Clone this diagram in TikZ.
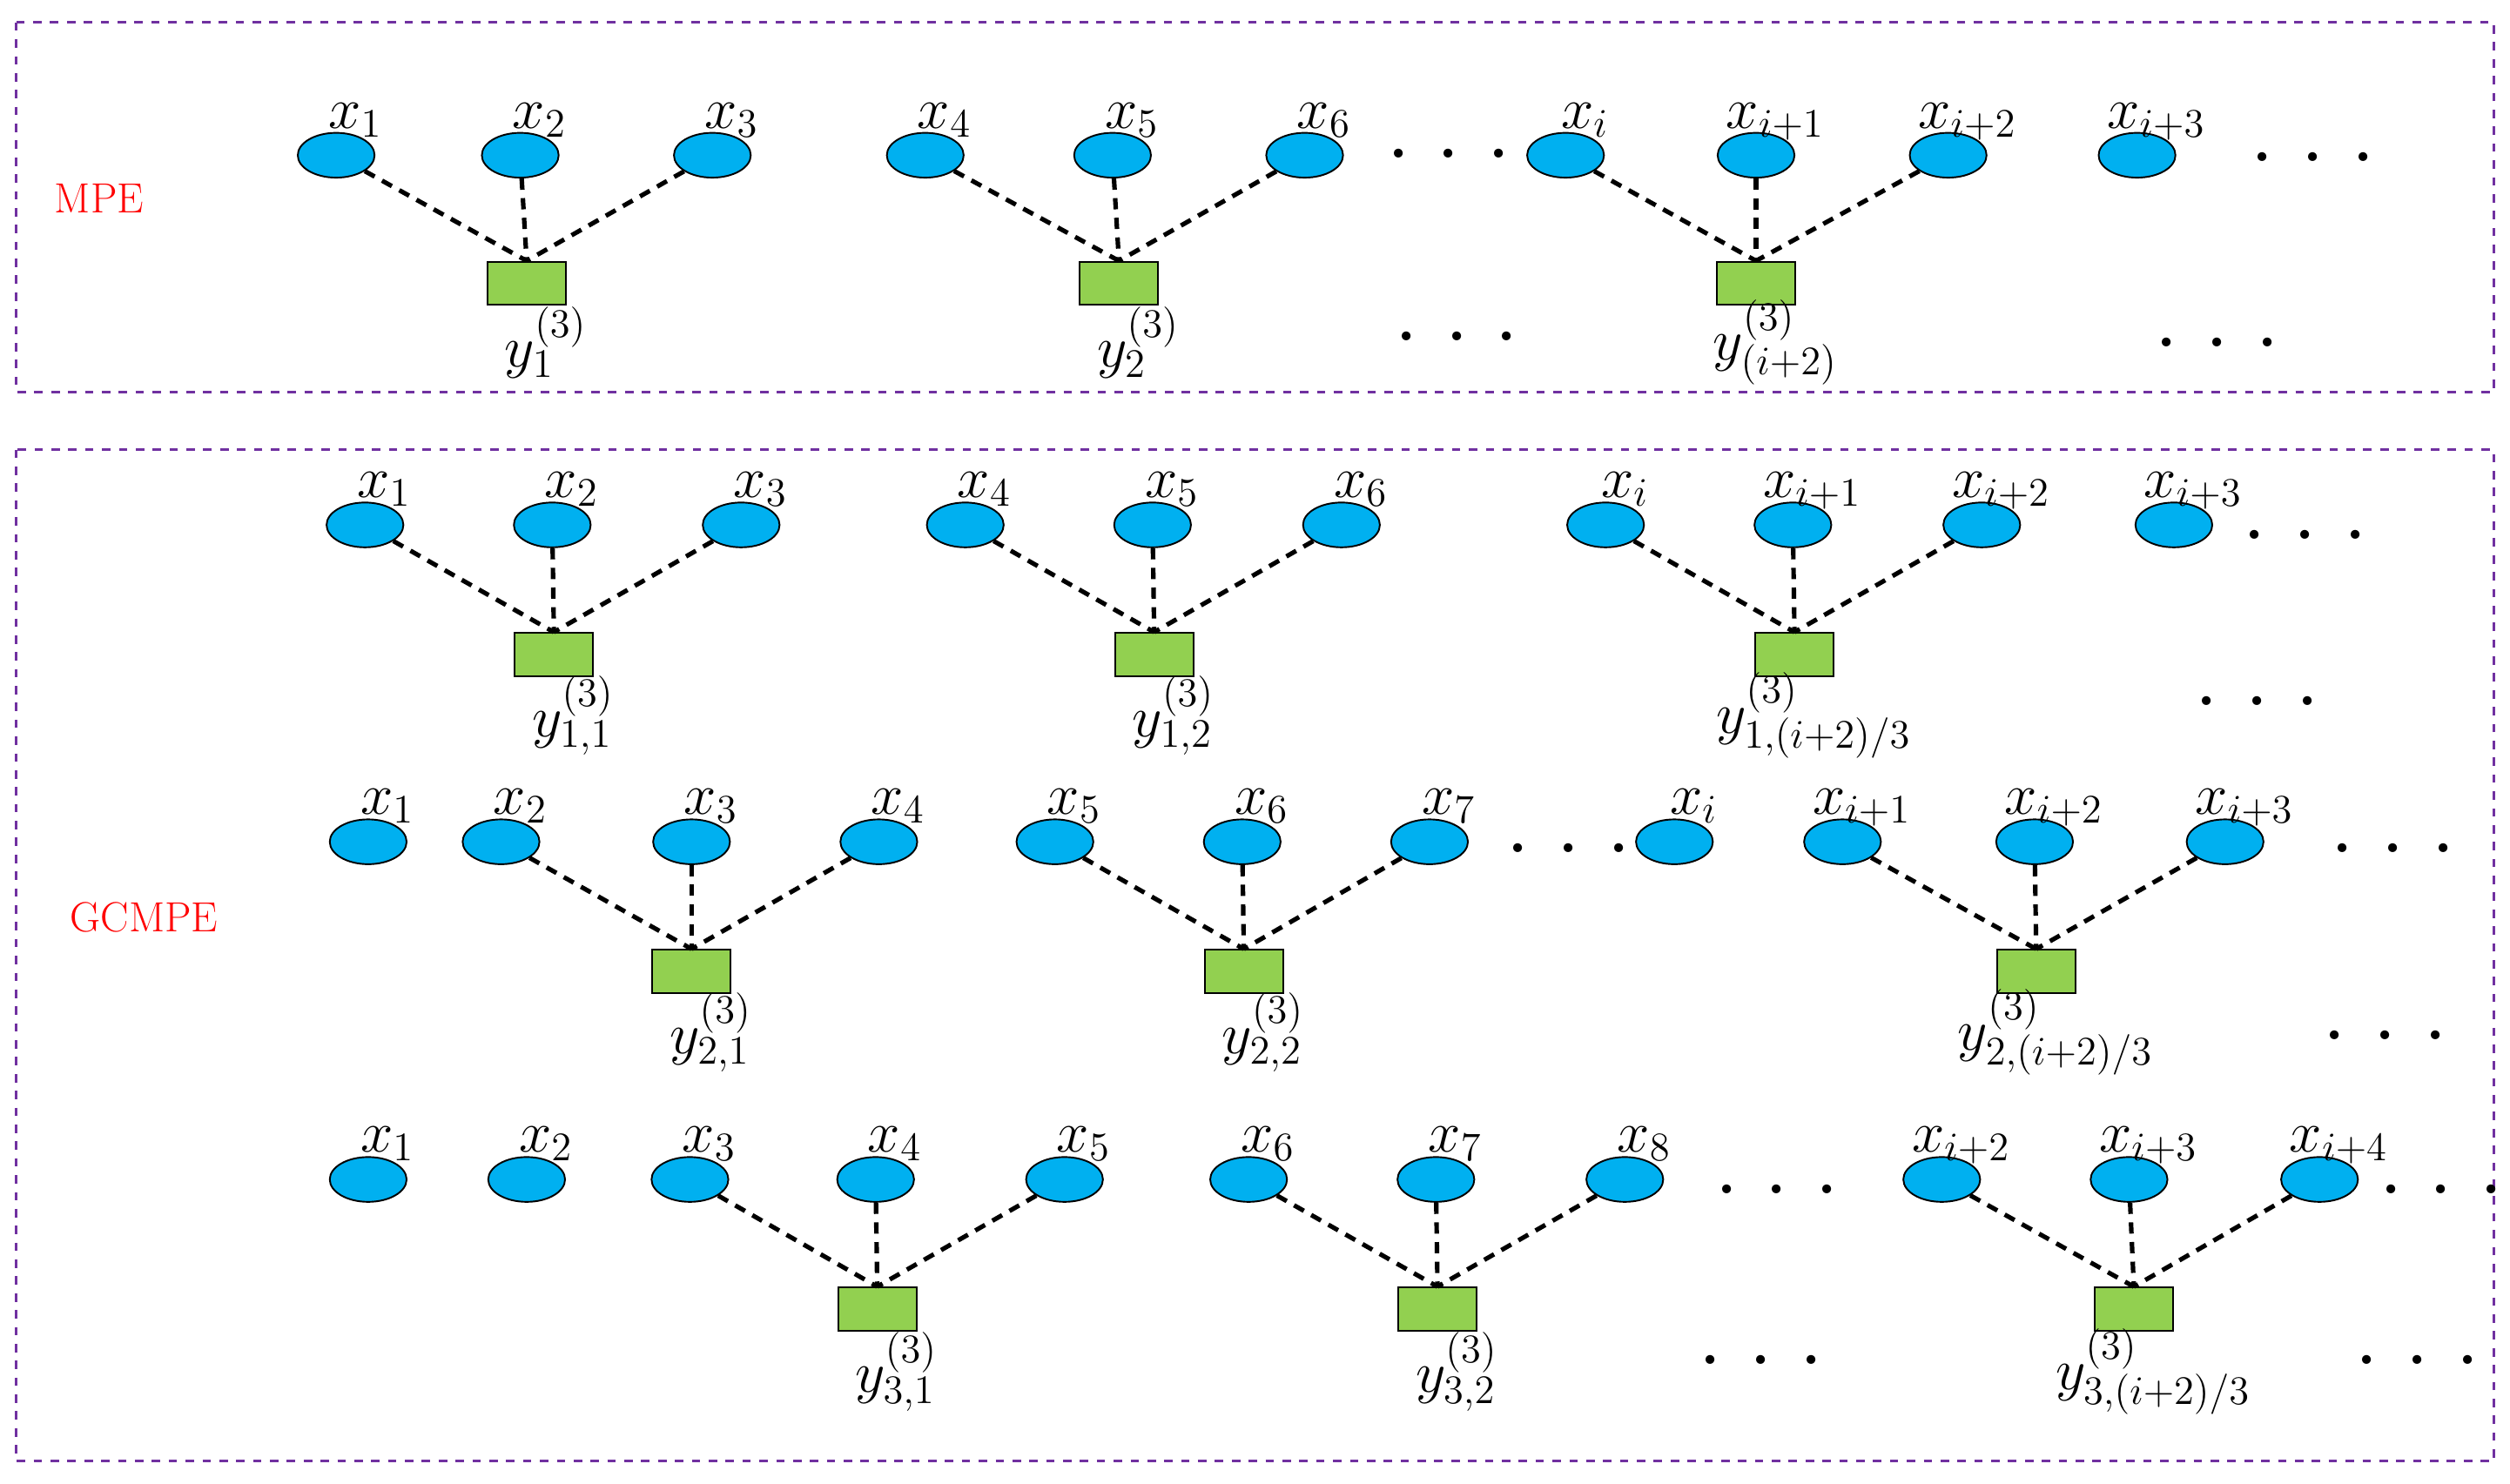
\documentclass[tikz,border=0pt]{standalone}
\usetikzlibrary{shapes.geometric}
\definecolor{ecyan}{RGB}{0,176,240}
\definecolor{rgreen}{RGB}{146,208,80}
\definecolor{bpurple}{RGB}{112,48,160}
\begin{document}
\begin{tikzpicture}[x=0.02cm,y=-0.02cm,
 el/.style={ellipse,draw=black,fill=ecyan,minimum width=0.96cm,minimum height=0.56cm,inner sep=0pt,line width=0.6pt},
 rc/.style={rectangle,draw=black,fill=rgreen,minimum width=0.98cm,minimum height=0.54cm,inner sep=0pt,line width=0.6pt},
 lk/.style={densely dashed,line width=1.6pt,dash pattern=on 4pt off 3pt},
 xl/.style={font=\fontsize{20}{22}\selectfont,anchor=base},
 yl/.style={font=\fontsize{20}{22}\selectfont},
 dt/.style={font=\fontsize{22}{22}\selectfont\bfseries},
 box/.style={draw=bpurple,dashed,line width=0.8pt},
 tl/.style={text=red,font=\fontsize{15}{16}\selectfont}]
\useasboundingbox (0,0) rectangle (1568,927);
\draw[box] (10,14) rectangle (1558,245);
\draw[box] (10,281) rectangle (1558,913);
\node[tl] (mpe) at (62,124) {MPE};
\node[tl] (gc) at (90,573) {GCMPE};
% ---- MPE
\foreach \n/\x/\t in {1/210/1,2/325/2,3/445/3,4/578/4,5/695/5,6/815/6,7/978/i,8/1097/i+1,9/1217/i+2,10/1335/i+3}{
 \node[el] (a\n) at (\x,97) {};
 \node[xl] (la\n) at (\x+12,80) {$x_{\t}$};}
\foreach \n/\x/\t in {1/329/1,2/699/2,3/1097/(i+2)/3}{
 \node[rc] (ra\n) at (\x,177) {};
 \node[yl] (lra\n) at (\x+12,214) {$y^{(3)}_{\t}$};}
\foreach \e/\r in {1/1,2/1,3/1,4/2,5/2,6/2,7/3,8/3,9/3}{\draw[lk] (a\e) -- (ra\r.north);}
\node[dt] (d1) at (905,96) {. . .};
\node[dt] (d2) at (1445,98) {. . .};
\node[dt] (d3) at (910,210) {. . .};
\node[dt] (d4) at (1385,214) {. . .};
% ---- row 1
\foreach \n/\x/\t in {1/228/1,2/345/2,3/463/3,4/603/4,5/720/5,6/838/6,7/1003/i,8/1120/i+1,9/1238/i+2,10/1358/i+3}{
 \node[el] (b\n) at (\x,328) {};
 \node[xl] (lb\n) at (\x+12,311) {$x_{\t}$};}
\foreach \n/\x/\t in {1/346/{1,1},2/721/{1,2},3/1121/{1,(i+2)/3}}{
 \node[rc] (rb\n) at (\x,409) {};
 \node[yl] (lrb\n) at (\x+12,447) {$y^{(3)}_{\t}$};}
\foreach \e/\r in {1/1,2/1,3/1,4/2,5/2,6/2,7/3,8/3,9/3}{\draw[lk] (b\e) -- (rb\r.north);}
\node[dt] (d5) at (1440,334) {. . .};
\node[dt] (d6) at (1410,438) {. . .};
% ---- row 2
\foreach \n/\x/\t in {1/230/1,2/313/2,3/432/3,4/549/4,5/659/5,6/776/6,7/893/7,8/1046/i,9/1151/i+1,10/1271/i+2,11/1390/i+3}{
 \node[el] (c\n) at (\x,526) {};
 \node[xl] (lc\n) at (\x+12,509) {$x_{\t}$};}
\foreach \n/\x/\t in {1/432/{2,1},2/777/{2,2},3/1272/{2,(i+2)/3}}{
 \node[rc] (rc\n) at (\x,607) {};
 \node[yl] (lrc\n) at (\x+12,645) {$y^{(3)}_{\t}$};}
\foreach \e/\r in {2/1,3/1,4/1,5/2,6/2,7/2,9/3,10/3,11/3}{\draw[lk] (c\e) -- (rc\r.north);}
\node[dt] (d7) at (980,530) {. . .};
\node[dt] (d8) at (1495,530) {. . .};
\node[dt] (d9) at (1490,647) {. . .};
% ---- row 3
\foreach \n/\x/\t in {1/230/1,2/329/2,3/431/3,4/547/4,5/665/5,6/780/6,7/897/7,8/1015/8,9/1213/i+2,10/1330/i+3,11/1449/i+4}{
 \node[el] (d\n) at (\x,737) {};
 \node[xl] (ld\n) at (\x+12,720) {$x_{\t}$};}
\foreach \n/\x/\t in {1/548/{3,1},2/898/{3,2},3/1333/{3,(i+2)/3}}{
 \node[rc] (rd\n) at (\x,818) {};
 \node[yl] (lrd\n) at (\x+12,857) {$y^{(3)}_{\t}$};}
\foreach \e/\r in {3/1,4/1,5/1,6/2,7/2,8/2,9/3,10/3,11/3}{\draw[lk] (d\e) -- (rd\r.north);}
\node[dt] (d10) at (1110,743) {. . .};
\node[dt] (d11) at (1100,850) {. . .};
\node[dt] (d12) at (1525,743) {. . .};
\node[dt] (d13) at (1510,850) {. . .};
\end{tikzpicture}
\end{document}
